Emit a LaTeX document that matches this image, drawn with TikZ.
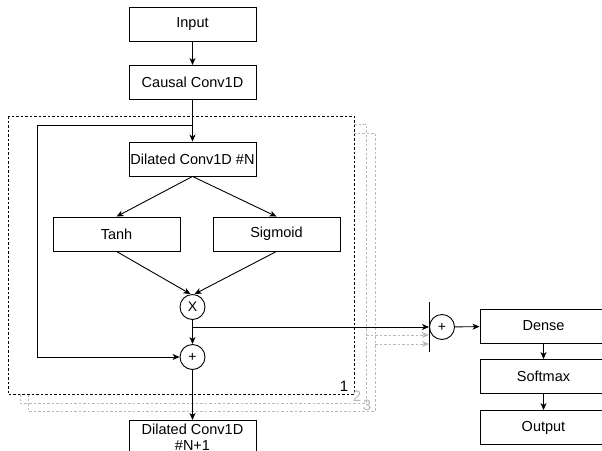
\documentclass[tikz,border=0pt]{standalone}
\usepackage{fontspec}
\setmainfont{Liberation Sans}
\usetikzlibrary{arrows.meta}
\tikzset{tip/.style = {-{Stealth[length=7pt, width=6pt, inset=2pt]}}}
\tikzset{box/.style = {draw, fill=white, minimum width=127, minimum height=34,
                       inner sep=0, font=\fontsize{14.5}{16.5}\selectfont}}
\tikzset{op/.style = {draw, circle, fill=white, minimum size=25, inner sep=0,
                      font=\fontsize{14}{16}\selectfont}}
\tikzset{frame/.style = {dash pattern=on 2.5pt off 2pt}}
\tikzset{ghost/.style = {frame, gray!55}}
\tikzset{tag/.style = {font=\fontsize{15}{17}\selectfont, inner sep=0}}

\begin{document}
\begin{tikzpicture}[x=1pt, y=-1pt, line width=0.9pt]
    \clip (0, 0) rectangle (602, 450);
    % stacked layers
    \draw [ghost] (28, 133) rectangle (375, 411);
    \draw [ghost] (20, 124) rectangle (366, 403);
    \draw [frame, fill=white] (8, 116) rectangle (354, 394);
    \node [tag] (one) at (344, 386) {1};
    \node [tag, gray!55] (two) at (357, 396) {2};
    \node [tag, gray!55] (three) at (367, 405) {3};
    \node [box] (input) at (192.5, 24) {Input};
    \node [box] (causal) at (192.5, 82.5) {Causal Conv1D};
    \node [box] (dil) at (192.5, 159) {Dilated Conv1D \#N};
    \node [box] (tanh) at (116.5, 234) {Tanh};
    \node [box] (sigm) at (276.5, 234) {Sigmoid};
    \node [op] (mult) at (192.5, 307) {X};
    \node [op] (add) at (192.5, 357) {+};
    \node [box, anchor=north, align=center, inner ysep=2] (next) at (192.5, 420)
        {Dilated Conv1D\\\#N+1};
    \node [op] (sum) at (442, 327) {+};
    \node [box] (dense) at (543.5, 326) {Dense};
    \node [box] (soft) at (543.5, 376.5) {Softmax};
    \node [box] (output) at (543.5, 427.5) {Output};
    \coordinate (split) at (192.5, 125);
    \coordinate (loop) at (37, 125);
    \coordinate (tap) at (192.5, 327);
    \coordinate (bartop) at (429, 302);
    \coordinate (barbot) at (429, 352);
    \coordinate (g2) at (366, 335);
    \coordinate (g3) at (375, 344);
    % connectors
    \draw [tip] (input) -- (causal);
    \draw [tip] (causal) -- (dil);
    \draw [tip] (split) -- (loop) |- (add);
    \draw [tip] (dil.south) -- (tanh.north);
    \draw [tip] (dil.south) -- (sigm.north);
    \draw [tip] (tanh.south) -- ([xshift=-2]mult.north);
    \draw [tip] (sigm.south) -- ([xshift=2]mult.north);
    \draw [tip] (mult) -- (add);
    \draw [tip] (add) -- (next);
    \draw [tip] (tap) -- (tap -| bartop);
    \draw [ghost, tip] (g2) -- (g2 -| bartop);
    \draw [ghost, tip] (g3) -- (g3 -| bartop);
    \draw (bartop) -- (barbot);
    \draw [tip] (sum) -- (dense);
    \draw [tip] (dense) -- (soft);
    \draw [tip] (soft) -- (output);
\end{tikzpicture}
\end{document}
